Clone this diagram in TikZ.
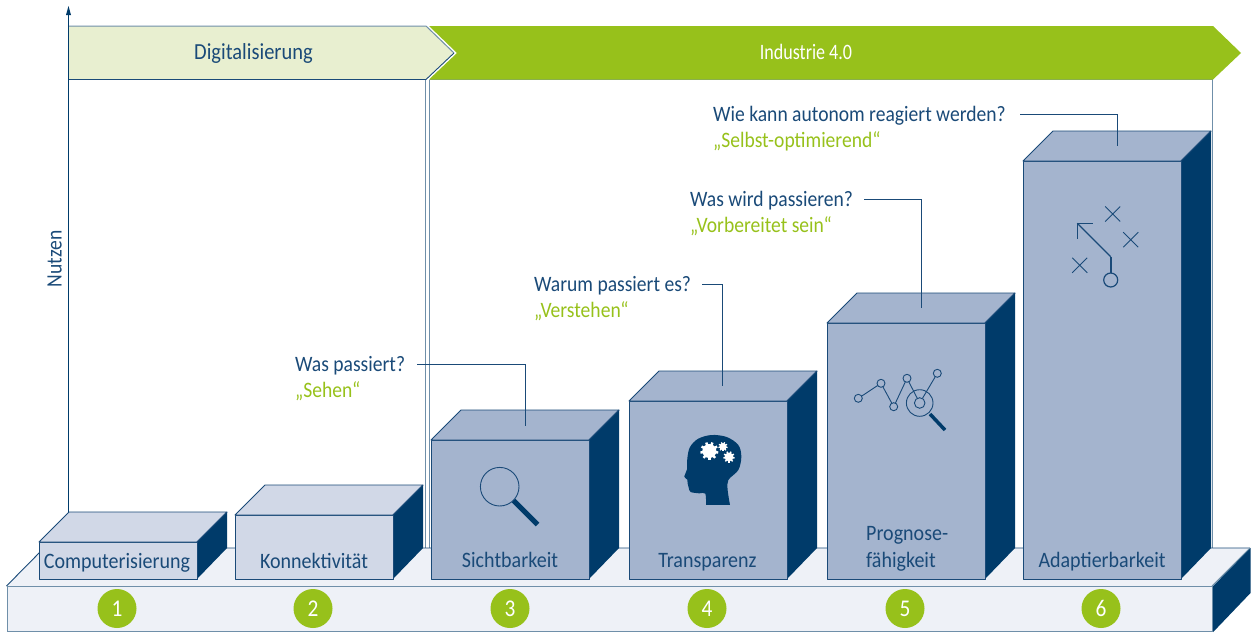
\documentclass[tikz,border=0pt]{standalone}
\usepackage{fontspec}
\setmainfont[FakeStretch=0.89]{Carlito}
\newfontfamily\narrowfont[FakeStretch=0.82]{Carlito}
\newfontfamily\widefont[FakeStretch=0.91]{Carlito}
\usetikzlibrary{calc}
\definecolor{navy}{HTML}{003B6A}
\definecolor{ink}{HTML}{1A4A78}
\definecolor{steel}{HTML}{6F8FA9}
\definecolor{boxdark}{HTML}{A4B4CE}
\definecolor{boxlight}{HTML}{D1D8E7}
\definecolor{plate}{HTML}{EEF1F7}
\definecolor{leaf}{HTML}{97C11B}
\definecolor{paleleaf}{HTML}{E8EFD0}
\tikzset{
  bigtext/.style={font=\fontsize{22}{24}\selectfont,inner sep=0pt,text height=16pt,text depth=1pt},
  question/.style={bigtext,anchor=west,text=ink},
  answer/.style={bigtext,anchor=west,text=leaf},
  boxlabel/.style={bigtext,font=\widefont\fontsize{22}{24}\selectfont,text=ink},
  leader/.style={draw=ink,line width=0.8pt},
  face/.style={draw=ink,line width=0.9pt,line join=round},
  numdisc/.style={circle,fill=leaf,text=white,minimum size=39pt,inner sep=0pt,font=\fontsize{24}{24}\selectfont},
  icon/.style={draw=ink,line width=0.9pt},
}
% \cube{name}{left}{top}{bottom}{fill}
\newcommand{\cube}[5]{%
  \node[face,fill=#5,minimum width=158pt,minimum height=#4pt-#3pt,inner sep=0pt,anchor=north west,outer sep=0pt] (#1) at (#2,#3) {};
  \draw[face,fill=#5] (#1.north west) -- ++(30,-30) -- ++(158,0) -- (#1.north east) -- cycle;
  \fill[navy] (#1.north east) -- ++(30,-30) -- ($(#1.south east)+(30,-31)$) -- (#1.south east) -- cycle;
  \draw[face] (#1.north east) -- ++(30,-30);
  \draw[face] (#1.north east) -- (#1.south east);
}
\newcommand{\gearshape}[3]{%
  \fill[white] (#1,#2) circle (#3*0.78);
  \foreach \a in {0,40,...,320}{\draw[white,line width=#3*0.09pt] ($(#1,#2)+(\a+10:#3*0.6)$) -- ($(#1,#2)+(\a+10:#3)$);}
}
\begin{document}
\begin{tikzpicture}[x=1pt,y=-1pt]
\useasboundingbox (0,0) rectangle (1253,632);
% frame lines
\draw[steel,line width=1.1pt] (425.5,79.5) -- (425.5,548);
\draw[steel,line width=1.1pt] (429.7,79.5) -- (429.7,548);
\draw[steel,line width=1.1pt] (429.7,79.5) -- (1212.7,79.5) -- (1212.7,548);
% banners
\path[fill=paleleaf] (68,26) -- (426,26) -- (454,53) -- (426,79.5) -- (68,79.5) -- cycle;
\draw[steel,line width=1pt] (68,26) -- (426,26) -- (454,53);
\draw[ink,line width=0.9pt] (454,53) -- (426,79.5) -- (68,79.5);
\fill[leaf] (429,26) -- (1213,26) -- (1241,53) -- (1213,79.5) -- (429,79.5) -- (457,53) -- cycle;
\node[bigtext,font=\fontsize{23}{24}\selectfont,text=ink] (dig) at (253.5,52) {Digitalisierung};
\node[bigtext,font=\narrowfont\fontsize{22}{24}\selectfont,text=white] (ind) at (806,52) {Industrie 4.0};
% axis
\coordinate (axbottom) at (68.5,512);
\coordinate (axtop) at (68.5,6);
\draw[navy,line width=1pt] (axbottom) -- (68.5,14);
\fill[navy] (axtop) -- (71,15) -- (66,15) -- cycle;
\node[bigtext,text=ink,rotate=90] (nutzen) at (54,259) {Nutzen};
% plate
\fill[plate] (6.5,586) -- (44,548) -- (1250,548) -- (1212,586) -- cycle;
\draw[ink,line width=0.9pt] (6.5,586) -- (44,548) -- (1250,548);
\draw[steel,line width=1pt] (1212,586) -- (1250,548);
\node[draw=steel,line width=1.1pt,fill=plate,minimum width=1205.5pt,minimum height=45pt,inner sep=0pt,anchor=north west] (base) at (6.5,586) {};
\fill[navy] (base.north east) -- (1250.5,548) -- (1250.5,593) -- (base.south east) -- cycle;
% cubes
\cube{b1}{39}{542}{579}{boxlight}
\cube{b2}{235}{515}{579}{boxlight}
\cube{b3}{431}{440}{579}{boxdark}
\cube{b4}{629}{401}{579}{boxdark}
\cube{b5}{827}{323}{579}{boxdark}
\cube{b6}{1023}{161}{579}{boxdark}
% cube labels
\node[boxlabel] (l1) at (117,561) {Computerisierung};
\node[boxlabel] (l2) at (314,561) {Konnektivität};
\node[boxlabel] (l3) at (510,560) {Sichtbarkeit};
\node[boxlabel] (l4) at (707.5,560) {Transparenz};
\node[boxlabel,anchor=west] (l5a) at (866,533) {Prognose-};
\node[boxlabel,anchor=west] (l5b) at (866,560) {fähigkeit};
\node[boxlabel] (l6) at (1102,560) {Adaptierbarkeit};
% discs
\node[numdisc] (n1) at (117,608.5) {1};
\node[numdisc] (n2) at (313,608.5) {2};
\node[numdisc] (n3) at (510,608.5) {3};
\node[numdisc] (n4) at (707,608.5) {4};
\node[numdisc] (n5) at (905,608.5) {5};
\node[numdisc] (n6) at (1101,608.5) {6};
% questions
\node[question] (q3) at (295,364) {Was passiert?};
\node[answer] (a3) at (295,390) {„Sehen“};
\node[question] (q4) at (534,284) {Warum passiert es?};
\node[answer] (a4) at (534,310) {„Verstehen“};
\node[question] (q5) at (690,199) {Was wird passieren?};
\node[answer] (a5) at (690,225) {„Vorbereitet sein“};
\node[question] (q6) at (713,114) {Wie kann autonom reagiert werden?};
\node[answer] (a6) at (713,140) {„Selbst-optimierend“};
% leaders
\coordinate (s3) at (417,364); \coordinate (e3) at (525,426);
\coordinate (s4) at (702,284); \coordinate (e4) at (722,386);
\coordinate (s5) at (864,199); \coordinate (e5) at (921,308);
\coordinate (s6) at (1020,114); \coordinate (e6) at (1117,146);
\draw[leader] (s3) -| (e3);
\draw[leader] (s4) -| (e4);
\draw[leader] (s5) -| (e5);
\draw[leader] (s6) -| (e6);
% magnifier
\draw[icon] (499.7,486.7) circle (19.3);
\draw[navy,line width=5pt] (513.5,500.5) -- (537.5,524.5);
% head
\begin{scope}[shift={(670,425)},x=0.3333pt,y=-0.3333pt]
\fill[navy] plot[smooth,tension=0.55] coordinates {(108,240) (106,206) (88,205) (62,201) (56,188) (53,176) (52,164) (43,155) (51,133) (52,100) (60,66) (85,41) (125,30) (170,36) (205,60) (214,95) (205,135) (175,165) (173,195) (180,240)} -- cycle;
\gearshape{118}{78}{27}
\gearshape{159}{65}{14}
\gearshape{177}{96}{17}
\end{scope}
% chart
\coordinate (c1) at (858.3,398.3);
\coordinate (c2) at (881,383.3);
\coordinate (c3) at (893.7,406.7);
\coordinate (c4) at (907,378.3);
\coordinate (c5) at (919.7,403);
\coordinate (c6) at (937.3,373.3);
\draw[icon] (c1) circle (4) (c2) circle (4) (c3) circle (4) (c4) circle (4) (c6) circle (4);
\draw[icon] (c5) circle (5.3) (c5) circle (13.3);
\draw[icon] ($(c1)!4pt!(c2)$) -- ($(c2)!4pt!(c1)$) ($(c2)!4pt!(c3)$) -- ($(c3)!4pt!(c2)$) ($(c3)!4pt!(c4)$) -- ($(c4)!4pt!(c3)$) ($(c4)!4pt!(c5)$) -- ($(c5)!5.3pt!(c4)$) ($(c5)!5.3pt!(c6)$) -- ($(c6)!4pt!(c5)$);
\draw[navy,line width=3.5pt] (930,414) -- (945,430);
% play
\draw[icon] (1105.2,206.5) -- (1120.2,221.5) (1105.2,221.5) -- (1120.2,206.5);
\draw[icon] (1123.2,232.2) -- (1138.2,247.2) (1123.2,247.2) -- (1138.2,232.2);
\draw[icon] (1072.2,257.8) -- (1087.2,272.8) (1072.2,272.8) -- (1087.2,257.8);
\draw[icon,line width=1.2pt] (1110.7,280) circle (7);
\draw[draw=ink,line width=2pt] (1110.7,256.7) -- (1110.7,273);
\draw[icon,line width=1.2pt] (1110.7,256.7) -- (1077.3,223.3);
\draw[icon,line width=1.2pt] (1092.7,223.3) -- (1077.3,223.3) -- (1077.3,239.3);
\end{tikzpicture}
\end{document}
